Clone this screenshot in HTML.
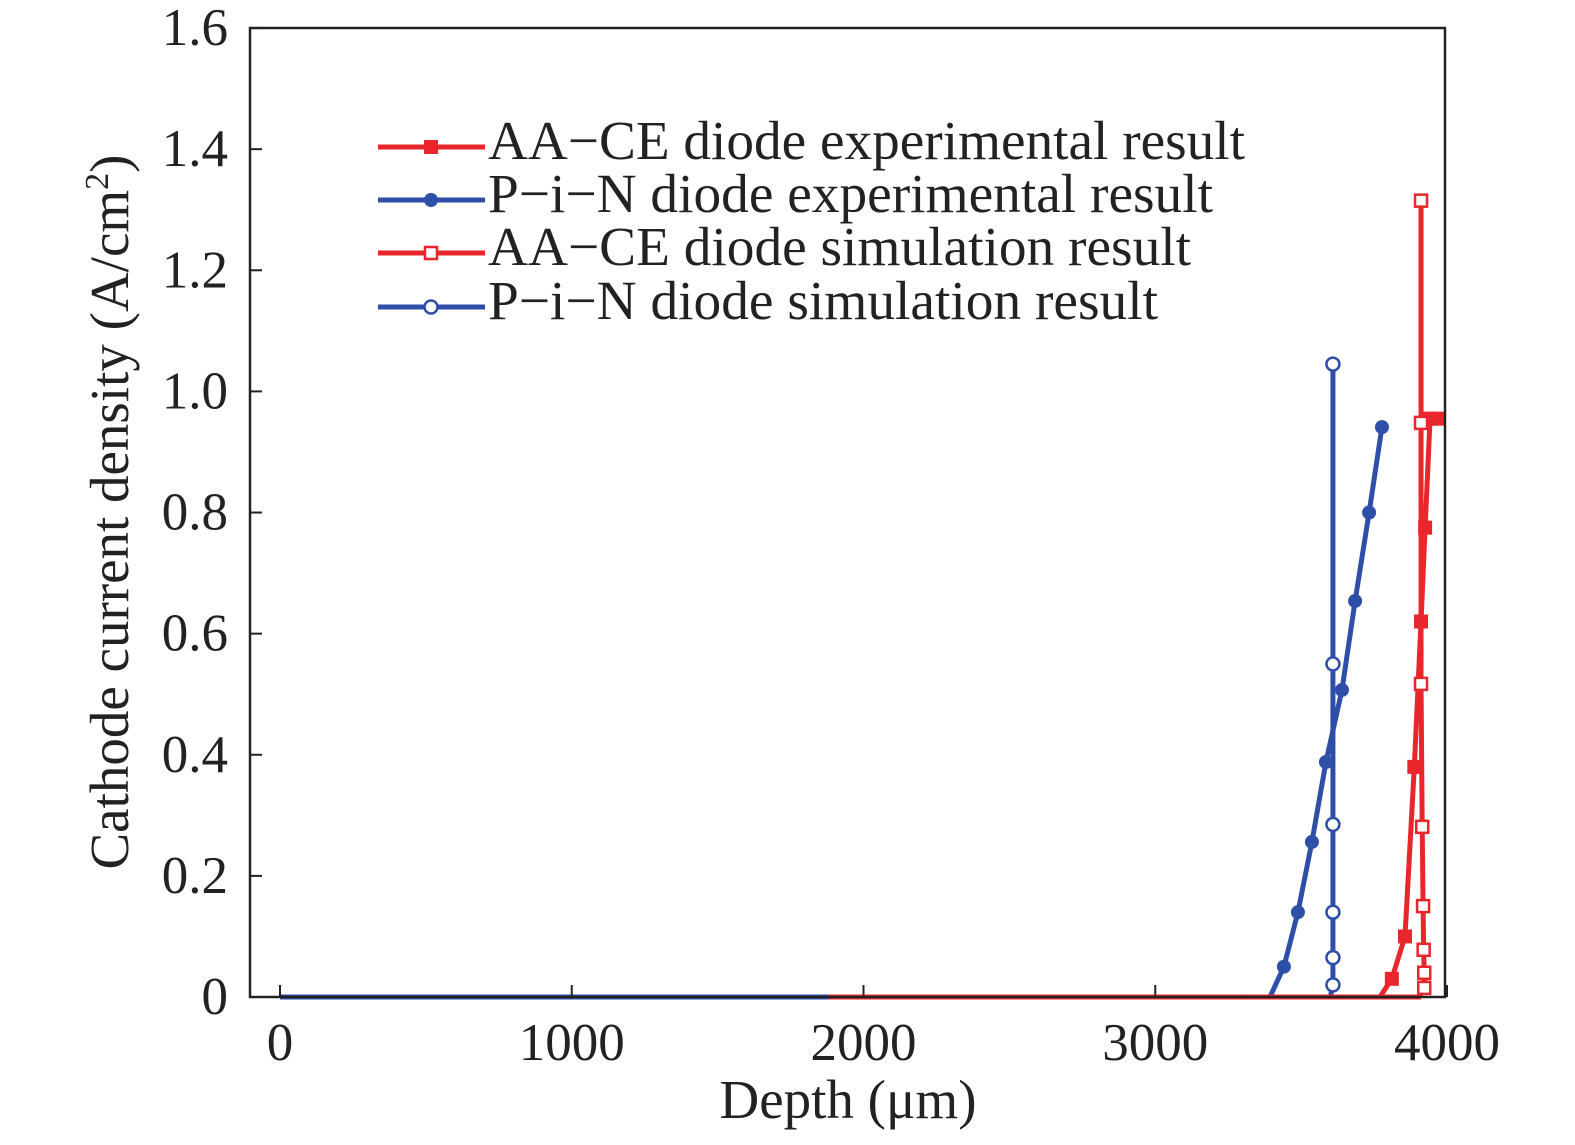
<!DOCTYPE html>
<html><head><meta charset="utf-8"><style>
body{margin:0;background:#fff}
text{font-family:"Liberation Serif",serif;fill:#222}
</style></head><body>
<svg id="chart" width="1575" height="1140" xmlns="http://www.w3.org/2000/svg">
<g id="marks"></g>
<rect x="250" y="28" width="1195" height="969" fill="none" stroke="#222" stroke-width="2.5"/>
<g id="axes"></g>
<text x="848" y="1118" font-size="55" text-anchor="middle">Depth (μm)</text>
<text transform="translate(128,512) rotate(-90)" font-size="55" text-anchor="middle">Cathode current density (A/cm<tspan font-size="34" dy="-20">2</tspan><tspan dy="20">)</tspan></text>
<g id="legend"></g>
</svg>
<script>
const xTicks=[0,1000,2000,3000,4000];
const yTicks=[0,0.2,0.4,0.6,0.8,1.0,1.2,1.4,1.6];
const yTickLabels=["0","0.2","0.4","0.6","0.8","1.0","1.2","1.4","1.6"];
const pinExpX=[0,3393,3441,3489,3537,3585,3640,3685,3733,3777];
const pinExpY=[0,0,0.05,0.14,0.256,0.388,0.507,0.654,0.80,0.941];
const pinSimX=[0,3600,3609,3609,3609,3609,3609,3609];
const pinSimY=[0,0,0.02,0.065,0.14,0.285,0.55,1.045];
const aaExpX=[1880,3770,3811,3856,3888,3911,3925,3942,3966];
const aaExpY=[0,0,0.03,0.10,0.38,0.62,0.775,0.955,0.955];
const aaSimX=[3300,3905,3922,3922,3920,3918,3915,3911,3911];
const aaSimY=[0,0,0.015,0.04,0.078,0.15,0.281,0.517,0.948];
const aaSimX2=[3911];const aaSimY2=[1.315];
const legendLabels=["AA−CE diode experimental result","P−i−N diode experimental result","AA−CE diode simulation result","P−i−N diode simulation result"];
const legendWidths=[757,725,703,670];
const X=v=>280+v*0.29175, Y=v=>997-v*605.6;
const NS="http://www.w3.org/2000/svg";
function mk(t,a,p){const e=document.createElementNS(NS,t);for(const k in a)e.setAttribute(k,a[k]);p.appendChild(e);return e;}
const axes=document.getElementById('axes'),marks=document.getElementById('marks'),leg=document.getElementById('legend');
xTicks.forEach(v=>{
 const l=mk('line',{x1:X(v),x2:X(v),y1:997,y2:985,stroke:'#222','stroke-width':2},axes);
 
 
 const t=mk('text',{x:X(v),y:1060,'font-size':53,'text-anchor':'middle'},axes);t.textContent=v;
 
 
});
yTicks.forEach((v,i)=>{
 const l=mk('line',{x1:250,x2:262,y1:Y(v),y2:Y(v),stroke:'#222','stroke-width':2},axes);
 
 
 const t=mk('text',{x:228,y:Y(v)+17,'font-size':53,'text-anchor':'end'},axes);t.textContent=yTickLabels[i];
 
 
});
function marker(type,cx,cy,col,p){
 let e;
 if(type==='fsq')e=mk('rect',{x:cx-7,y:cy-7,width:14,height:14,fill:col},p);
 else if(type==='osq')e=mk('rect',{x:cx-6,y:cy-6,width:12,height:12,fill:'#fff',stroke:col,'stroke-width':2.5},p);
 else if(type==='fc')e=mk('circle',{cx:cx,cy:cy,r:7,fill:col},p);
 else e=mk('circle',{cx:cx,cy:cy,r:6.5,fill:'#fff',stroke:col,'stroke-width':2.5},p);
 return e;
}
function series(xs,ys,col,type,name,skip){
 const g=mk('g',{},marks);
 
 
 const pl=mk('polyline',{points:xs.map((x,i)=>X(x)+','+Y(ys[i])).join(' '),fill:'none',stroke:col,'stroke-width':5},g);
 
 
 xs.forEach((x,i)=>{if(i<skip)return;const m=marker(type,X(x),Y(ys[i]),col,g);
  
  });
}
const R='#e8262b',B='#2e4fa8';
series(pinExpX,pinExpY,B,'fc','pin-experimental',2);
series(pinSimX,pinSimY,B,'oc','pin-simulation',2);
series(aaExpX,aaExpY,R,'fsq','aace-experimental',2);
series(aaSimX.concat(aaSimX2),aaSimY.concat(aaSimY2),R,'osq','aace-simulation',2);
const lc=[R,B,R,B],lt=['fsq','fc','osq','oc'],ly=[147,200,253,307];
legendLabels.forEach((s,i)=>{
 const g=mk('g',{},leg);
 
 
 mk('line',{x1:378,x2:485,y1:ly[i],y2:ly[i],stroke:lc[i],'stroke-width':5},g);
 marker(lt[i],431,ly[i],lc[i],g);
 const t=mk('text',{x:488,y:ly[i]+12,'font-size':55,textLength:legendWidths[i],lengthAdjust:'spacingAndGlyphs'},g);
 t.textContent=s;
});
</script>
</body></html>
